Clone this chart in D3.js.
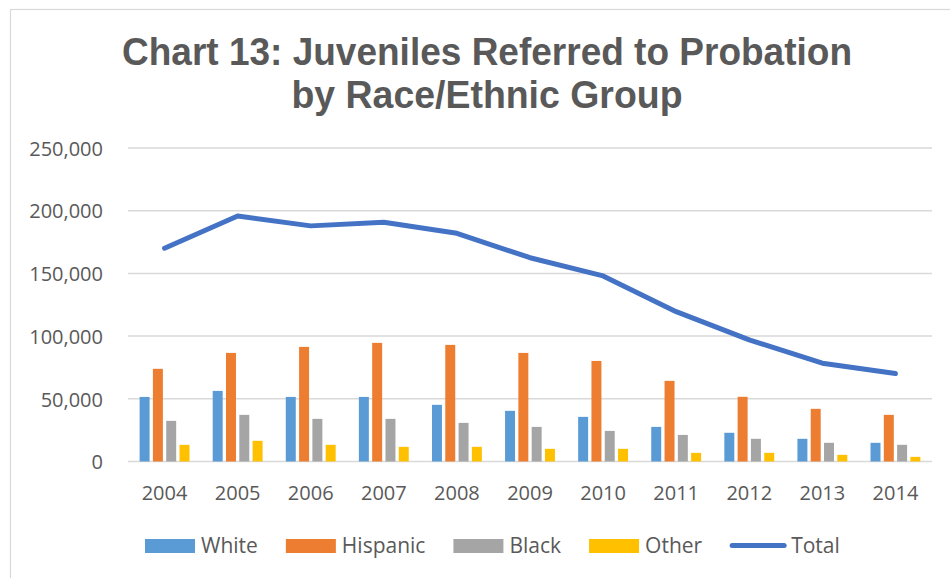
<!DOCTYPE html>
<html>
<head>
<meta charset="utf-8">
<script src="https://cdn.jsdelivr.net/npm/d3@7"></script>
<style>
  html, body { margin: 0; padding: 0; background: #fff; }
  svg { display: block; }
</style>
</head>
<body>
<svg id="chart" width="950" height="578"></svg>
<script>
// Juveniles referred to probation, by race/ethnic group, 2004–2014
const years = ["2004", "2005", "2006", "2007", "2008", "2009", "2010", "2011", "2012", "2013", "2014"];
const seriesNames = ["White", "Hispanic", "Black", "Other"];
const white    = [51500, 56300, 51500, 51500, 45200, 40400, 35600, 27600, 22900, 18100, 14900];
const hispanic = [73900, 86600, 91400, 94600, 93000, 86600, 80200, 64300, 51600, 42000, 37200];
const black    = [32400, 37200, 34000, 34000, 30800, 27600, 24400, 21200, 18100, 14900, 13300];
const other    = [13300, 16500, 13300, 11700, 11700, 10100, 10100,  6900,  6900,  5300,  3700];
const total    = [170100, 195800, 187900, 190800, 182000, 162500, 148000, 119500, 97000, 78400, 70100];
const yTicks   = [0, 50000, 100000, 150000, 200000, 250000];
const titleLines = ["Chart 13: Juveniles Referred to Probation", "by Race/Ethnic Group"];

const colors = { White: "#5B9BD5", Hispanic: "#ED7D31", Black: "#A5A5A5", Other: "#FFC000", Total: "#4472C4" };
const seriesValues = { White: white, Hispanic: hispanic, Black: black, Other: other };

const svg = d3.select("#chart");
const textColor = "#595959";
const gridColor = "#d9d9d9";
const labelFont = "'Open Sans', 'Liberation Sans', sans-serif";

// outer frame
svg.append("rect")
  .attr("x", 10.5).attr("y", 9.5)
  .attr("width", 960).attr("height", 600)
  .attr("fill", "none").attr("stroke", gridColor).attr("stroke-width", 1.2);

// title: one text element wrapped onto two centred lines
const titleSpecs = [
  { y: 65, width: 730 },
  { y: 108, width: 391 }
];
const title = svg.append("text")
  .attr("text-anchor", "middle")
  .attr("font-family", "'Liberation Sans', Arial, sans-serif")
  .attr("font-weight", "bold")
  .attr("font-size", 38)
  .attr("fill", textColor);
titleLines.forEach((t, i) => {
  title.append("tspan")
    .attr("x", 487).attr("y", titleSpecs[i].y)
    .attr("textLength", titleSpecs[i].width)
    .attr("lengthAdjust", "spacingAndGlyphs")
    .text(t);
});

// scales
const plot = { left: 128, right: 932, top: 148, bottom: 461.5 };
const x0 = d3.scaleBand().domain(years).range([plot.left, plot.right])
  .paddingInner(0.272).paddingOuter(0.136);
const x1 = d3.scaleBand().domain(seriesNames).range([0, x0.bandwidth()])
  .paddingInner(0.25).paddingOuter(0.125);
const y = d3.scaleLinear().domain([0, 250000]).range([plot.bottom, plot.top]);

// gridlines
svg.append("g")
  .selectAll("line")
  .data(yTicks)
  .join("line")
  .attr("x1", plot.left).attr("x2", plot.right)
  .attr("y1", d => y(d)).attr("y2", d => y(d))
  .attr("stroke", gridColor).attr("stroke-width", 1.5);

// y axis labels
const yAxis = d3.axisLeft(y).tickValues(yTicks)
  .tickFormat(d3.format(",")).tickSize(0).tickPadding(0);
const yg = svg.append("g").attr("transform", `translate(103,0)`).call(yAxis);
yg.select(".domain").remove();
yg.selectAll("text")
  .attr("font-family", labelFont).attr("font-size", 20)
  .attr("fill", textColor).attr("dy", "0.36em");

// x axis labels
const xAxis = d3.axisBottom(x0).tickSize(0).tickPadding(0);
const xg = svg.append("g").attr("transform", `translate(0,500)`).call(xAxis);
xg.select(".domain").remove();
xg.selectAll("text")
  .attr("font-family", labelFont).attr("font-size", 20)
  .attr("fill", textColor).attr("dy", 0);

// bars
const groups = svg.append("g")
  .selectAll("g")
  .data(years)
  .join("g")
  .attr("transform", d => `translate(${x0(d)},0)`);
groups.selectAll("rect")
  .data((yr, i) => seriesNames.map(s => ({ s, v: seriesValues[s][i] })))
  .join("rect")
  .attr("x", d => x1(d.s))
  .attr("width", x1.bandwidth())
  .attr("y", d => y(d.v))
  .attr("height", d => y(0) - y(d.v))
  .attr("fill", d => colors[d.s]);

// total line
const line = d3.line()
  .x((d, i) => x0(years[i]) + x0.bandwidth() / 2)
  .y(d => y(d));
svg.append("path")
  .datum(total)
  .attr("d", line)
  .attr("fill", "none")
  .attr("stroke", colors.Total)
  .attr("stroke-width", 5)
  .attr("stroke-linejoin", "round")
  .attr("stroke-linecap", "round");

// legend
const legendItems = seriesNames.concat(["Total"]);
const legend = svg.append("g");
let lx = 0;
const swatchW = 50, textGap = 6, itemGap = 28, legendY = 546;
legendItems.forEach(name => {
  const g = legend.append("g").attr("transform", `translate(${lx},0)`);
  if (name === "Total") {
    g.append("line")
      .attr("x1", 2).attr("x2", swatchW + 4)
      .attr("y1", legendY - 0.5).attr("y2", legendY - 0.5)
      .attr("stroke", colors.Total).attr("stroke-width", 5)
      .attr("stroke-linecap", "round");
  } else {
    g.append("rect")
      .attr("x", 0).attr("y", legendY - 7)
      .attr("width", swatchW).attr("height", 14)
      .attr("fill", colors[name]);
  }
  const tx = (name === "Total" ? swatchW + 11 : swatchW + textGap);
  const t = g.append("text")
    .attr("x", tx).attr("y", legendY + 7)
    .attr("font-family", labelFont).attr("font-size", 21)
    .attr("fill", textColor)
    .text(name);
  lx += tx + t.node().getComputedTextLength() + itemGap;
});
legend.attr("transform", `translate(145,0)`);
</script>
</body>
</html>
